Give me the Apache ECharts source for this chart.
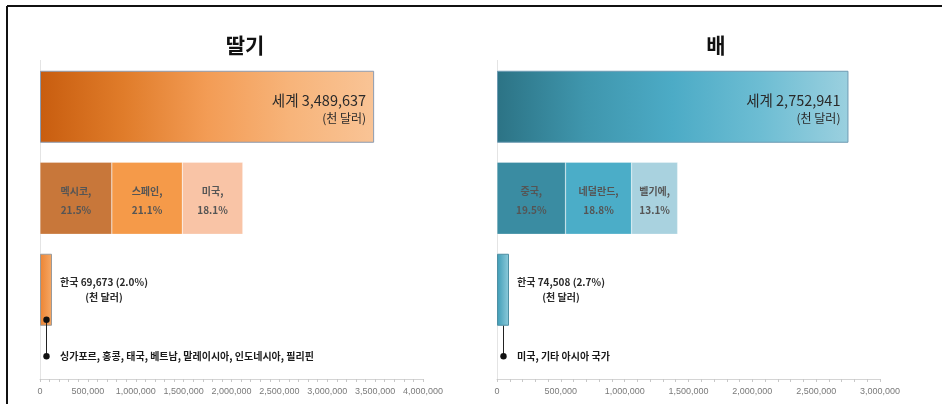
<!DOCTYPE html>
<html>
<head>
<meta charset="utf-8">
<script src="https://cdn.jsdelivr.net/npm/echarts@6/dist/echarts.min.js"></script>
<style>
html,body{margin:0;padding:0;background:#fff;}
#c{width:942px;height:404px;}
</style>
</head>
<body>
<div id="c"></div>
<script>
// ---------- DATA ----------
const rowNames = ['세계', '주요 수출국', '한국'];
const titles = ['딸기', '배'];

const strawberryWorld = 3489637;
const strawberryTopNames = ['멕시코', '스페인', '미국'];
const strawberryTopShares = [21.5, 21.1, 18.1];
const strawberryKorea = 69673;
const strawberryKoreaShare = 2.0;
const strawberryDest = '싱가포르, 홍콩, 태국, 베트남, 말레이시아, 인도네시아, 필리핀';

const pearWorld = 2752941;
const pearTopNames = ['중국', '네덜란드', '벨기에'];
const pearTopShares = [19.5, 18.8, 13.1];
const pearKorea = 74508;
const pearKoreaShare = 2.7;
const pearDest = '미국, 기타 아시아 국가';

const axisMax = [4000000, 3000000];
const axisStep = 500000;

// ---------- STYLE / LAYOUT ----------
const KR = "'Noto Sans CJK KR', 'Noto Sans', sans-serif";
const NUM = "'Liberation Sans', Roboto, 'Noto Sans CJK KR', sans-serif";
const grids = [
  {left: 40, top: 61, width: 383, height: 274.5},
  {left: 497, top: 61, width: 383, height: 274.5}
];
const axisLineY = 379;
const palettes = [
  {
    world: ['#C85D0F', '#E07C2A', '#F39C55', '#F7B47A', '#F9C496'],
    worldBorder: '#8C9BB0',
    segs: ['#C8773A', '#F59A49', '#F9C4A6'],
    korea: ['#EC8433', '#F6A865'],
    koreaBorder: '#9A9A9A'
  },
  {
    world: ['#2C7385', '#3F96AD', '#4CABC6', '#6DBDD3', '#9BD0DF'],
    worldBorder: '#6E9AB2',
    segs: ['#3A8CA2', '#4BADC8', '#A9D2DF'],
    korea: ['#3E9CB6', '#8ECBDB'],
    koreaBorder: '#4E8FA3'
  }
];

function fmt(v) { return Number(v).toLocaleString('en-US'); }

function buildChart(i, world, topNames, topShares, korea, koreaShare) {
  const pal = palettes[i];
  const stack = 's' + i;
  const series = [];
  const worldStops = pal.world.map((c, k) => ({offset: k / (pal.world.length - 1), color: c}));
  series.push({
    type: 'bar', xAxisIndex: i, yAxisIndex: i, stack: stack, barWidth: 72,
    data: [world, '-', '-'],
    itemStyle: {
      color: new echarts.graphic.LinearGradient(0, 0, 1, 0, worldStops),
      borderColor: pal.worldBorder, borderWidth: 1
    },
    label: {
      show: true, position: 'insideRight', distance: 8, offset: [0, 2],
      formatter: () => '{a|세계 ' + fmt(world) + '}\n{b|(천 달러)}',
      rich: {
        a: {fontFamily: KR, fontSize: 14.5, color: '#2a2a2a', lineHeight: 19, align: 'right'},
        b: {fontFamily: KR, fontSize: 12, color: '#2a2a2a', lineHeight: 17, align: 'right'}
      }
    },
    silent: true, animation: false
  });
  topNames.forEach((n, k) => {
    const v = Math.round(world * topShares[k] / 100);
    series.push({
      type: 'bar', xAxisIndex: i, yAxisIndex: i, stack: stack, barWidth: 72,
      data: ['-', v, '-'],
      itemStyle: {color: pal.segs[k], borderColor: 'rgba(255,255,255,0.5)', borderWidth: 0.5},
      label: {
        show: true, position: 'inside', offset: [0, 2],
        formatter: () => '{n|' + n + ',}\n{p|' + topShares[k].toFixed(1) + '%}',
        rich: {
          n: {fontFamily: KR, fontSize: 10, fontWeight: 'bold', color: '#555', lineHeight: 19},
          p: {fontFamily: KR, fontSize: 10, fontWeight: 'bold', color: '#555', lineHeight: 19}
        }
      },
      silent: true, animation: false
    });
  });
  series.push({
    type: 'bar', xAxisIndex: i, yAxisIndex: i, stack: stack, barWidth: 72, barMinHeight: 12,
    data: ['-', '-', korea],
    itemStyle: {
      color: new echarts.graphic.LinearGradient(0, 0, 1, 0, [
        {offset: 0, color: pal.korea[0]}, {offset: 1, color: pal.korea[1]}
      ]),
      borderColor: pal.koreaBorder, borderWidth: 1
    },
    label: {
      show: true, position: 'right', distance: 8,
      formatter: () => '{a|한국 ' + fmt(korea) + ' (' + koreaShare.toFixed(1) + '%)}\n{b|(천 달러)}',
      rich: {
        a: {fontFamily: KR, fontSize: 10, fontWeight: 'bold', color: '#2a2a2a', lineHeight: 15, align: 'center'},
        b: {fontFamily: KR, fontSize: 10, fontWeight: 'bold', color: '#2a2a2a', lineHeight: 15, align: 'center'}
      }
    },
    silent: true, animation: false
  });
  return series;
}

const chart = echarts.init(document.getElementById('c'), null, {renderer: 'canvas'});

const xAxes = [0, 1].map(i => ({
  type: 'value', gridIndex: i, min: 0, max: axisMax[i], interval: axisStep,
  offset: axisLineY - (grids[i].top + grids[i].height),
  axisLine: {show: true, lineStyle: {color: '#D4D4D4', width: 1}},
  axisTick: {show: true, length: 3, lineStyle: {color: '#C8C8C8'}},
  minorTick: {show: true, splitNumber: 5, length: 3, lineStyle: {color: '#C8C8C8'}},
  splitLine: {show: false},
  axisLabel: {
    margin: 8, fontFamily: NUM, fontSize: 9, color: '#7A7A7A',
    showMinLabel: true, showMaxLabel: true, hideOverlap: false,
    formatter: v => fmt(v)
  }
}));
const yAxes = [0, 1].map(i => ({
  type: 'category', gridIndex: i, data: rowNames, inverse: true,
  axisLine: {show: false}, axisTick: {show: false}, axisLabel: {show: false},
  splitLine: {show: false}
}));

chart.setOption({
  animation: false,
  backgroundColor: '#fff',
  title: [
    {text: titles[0], left: 240, top: 30, textAlign: 'center',
     textStyle: {fontFamily: KR, fontSize: 21, fontWeight: 'bold', color: '#111'}},
    {text: titles[1], left: 711, top: 30, textAlign: 'center',
     textStyle: {fontFamily: KR, fontSize: 21, fontWeight: 'bold', color: '#111'}}
  ],
  grid: grids.map(g => Object.assign({containLabel: false}, g)),
  xAxis: xAxes,
  yAxis: yAxes,
  series: [].concat(
    buildChart(0, strawberryWorld, strawberryTopNames, strawberryTopShares, strawberryKorea, strawberryKoreaShare),
    buildChart(1, pearWorld, pearTopNames, pearTopShares, pearKorea, pearKoreaShare)
  )
});

// ---------- decorations derived from the axes ----------
const koreaVals = [strawberryKorea, pearKorea];
const dests = [strawberryDest, pearDest];
const topDot = [true, false];
const elements = [
  {type: 'line', shape: {x1: 7, y1: 6, x2: 942, y2: 6}, style: {stroke: '#111', lineWidth: 2}, silent: true},
  {type: 'line', shape: {x1: 7, y1: 6, x2: 7, y2: 404}, style: {stroke: '#111', lineWidth: 2}, silent: true}
];
[0, 1].map(i => {
  const f = {xAxisIndex: i, yAxisIndex: i};
  const p0 = chart.convertToPixel(f, [0, rowNames[2]]);
  const p1 = chart.convertToPixel(f, [koreaVals[i], rowNames[2]]);
  const barW = Math.max(p1[0] - p0[0], 12);
  const cx = Math.round(p0[0] + barW / 2) + 0.5;
  const yTop = p0[1] + 30;
  const yBot = p0[1] + 66.5;
  elements.push({type: 'line', shape: {x1: p0[0] + 0.5, y1: grids[i].top - 1, x2: p0[0] + 0.5, y2: axisLineY},
    style: {stroke: '#E4E4E4', lineWidth: 1}, silent: true, z: -1});
  elements.push({type: 'line', shape: {x1: cx, y1: topDot[i] ? yTop : p0[1] + 36, x2: cx, y2: yBot},
    style: {stroke: '#222', lineWidth: 1}, silent: true, z: 100});
  if (topDot[i]) elements.push({type: 'circle', shape: {cx: cx, cy: yTop, r: 3.2}, style: {fill: '#111'}, silent: true, z: 101});
  elements.push({type: 'circle', shape: {cx: cx, cy: yBot, r: 3.2}, style: {fill: '#111'}, silent: true, z: 101});
  elements.push({type: 'text', x: cx + 13.5, y: yBot, silent: true, z: 101,
    style: {text: dests[i], fontFamily: KR, fontSize: 10, fontWeight: 'bold', fill: '#1a1a1a',
            textVerticalAlign: 'middle', verticalAlign: 'middle', align: 'left'}});
});
chart.setOption({graphic: {elements: elements}});
</script>
</body>
</html>
